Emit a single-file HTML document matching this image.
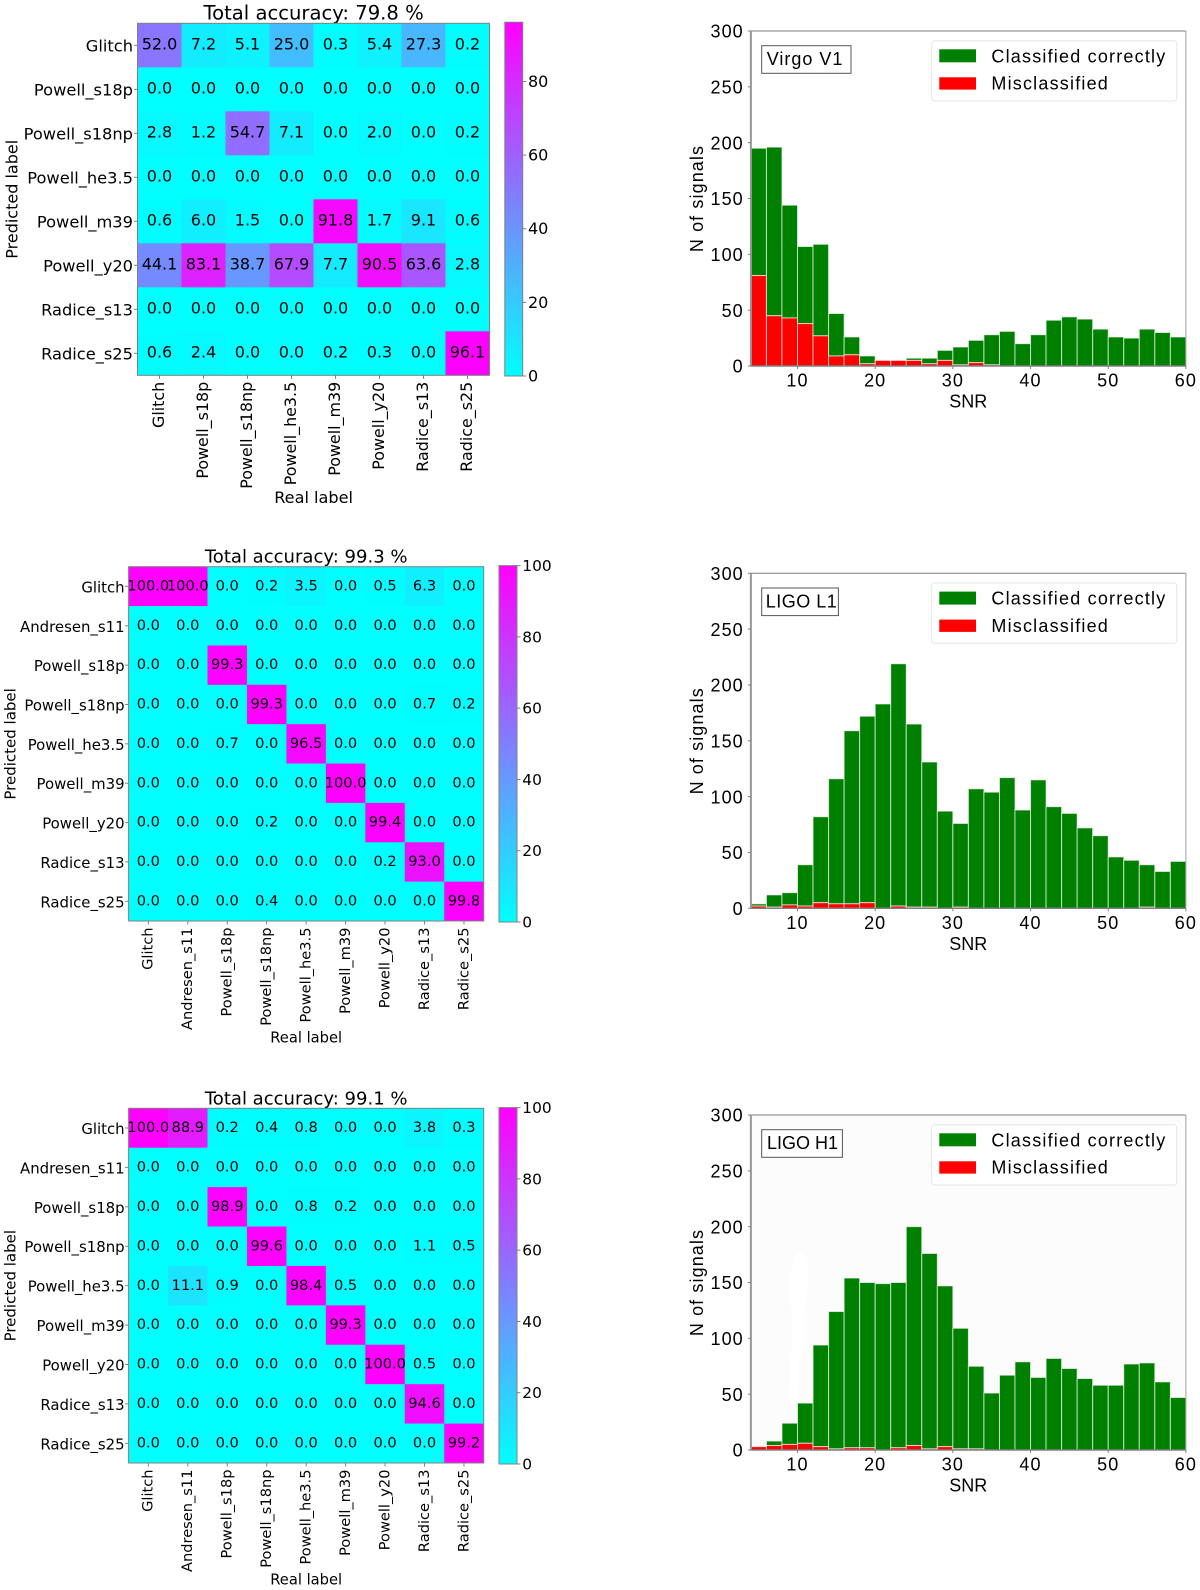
<!DOCTYPE html>
<html lang="en">
<head>
<meta charset="utf-8">
<title>Confusion matrices and SNR histograms</title>
<style>
html,body{margin:0;padding:0;background:#fff;}
svg{display:block;filter:blur(0.35px);}
.dv{font-family:"DejaVu Sans","Liberation Sans",sans-serif;fill:#000;}
.ls{font-family:"Liberation Sans",Arial,sans-serif;fill:#000;font-size:18px;}
</style>
</head>
<body>
<svg id="figure" xmlns="http://www.w3.org/2000/svg" width="1200" height="1590" viewBox="0 0 1200 1590">
  <defs>
    <linearGradient id="cool-gradient" x1="0" y1="1" x2="0" y2="0">
      <stop offset="0" stop-color="#00ffff"/>
      <stop offset="1" stop-color="#ff00ff"/>
    </linearGradient>
  </defs>
  <rect x="0" y="0" width="1200" height="1590" fill="#ffffff"/>

  <!-- Confusion matrix 1 -->
  <g id="cm1">
    <text class="dv" x="313.6" y="19.5" font-size="19.6" text-anchor="middle">Total accuracy: 79.8 %</text>
    <text class="dv" x="313.6" y="503" font-size="16.1" text-anchor="middle">Real label</text>
    <text class="dv" font-size="16" text-anchor="middle" transform="translate(17.5 199.3) rotate(-90)">Predicted label</text>
  </g>

  <!-- Confusion matrix 2 -->
  <g id="cm2">
    <text class="dv" x="306.2" y="562.7" font-size="18.05" text-anchor="middle">Total accuracy: 99.3 %</text>
    <text class="dv" x="306.2" y="1042.7" font-size="14.7" text-anchor="middle">Real label</text>
    <text class="dv" font-size="15" text-anchor="middle" transform="translate(15.5 743.9) rotate(-90)">Predicted label</text>
  </g>

  <!-- Confusion matrix 3 -->
  <g id="cm3">
    <text class="dv" x="306.2" y="1104.4" font-size="18.05" text-anchor="middle">Total accuracy: 99.1 %</text>
    <text class="dv" x="306.2" y="1584.5" font-size="14.7" text-anchor="middle">Real label</text>
    <text class="dv" font-size="15" text-anchor="middle" transform="translate(15.5 1285.7) rotate(-90)">Predicted label</text>
  </g>

  <!-- Histogram 1 -->
  <g id="hist1">
    <rect x="750.9" y="31" width="435" height="335" fill="#ffffff"/>
    <g class="bars"></g>
    <g>
      <rect x="761.7" y="45.7" width="89.3" height="27.6" fill="#fff" stroke="#555" stroke-width="1"/>
      <text class="ls" x="766.7" y="65" letter-spacing="1">Virgo V1</text>
    </g>
    <g>
      <rect x="931.7" y="40.7" width="245" height="60.3" rx="3" fill="#fff" stroke="#e6e6e6" stroke-width="1"/>
      <rect x="939.3" y="49.3" width="36.7" height="13" fill="#008000"/>
      <text class="ls" x="991.4" y="62.3" letter-spacing="1.2">Classified correctly</text>
      <rect x="939.3" y="77.3" width="36.7" height="12.3" fill="#ff0000"/>
      <text class="ls" x="991.4" y="89.5" letter-spacing="1.2">Misclassified</text>
    </g>
    <text class="ls" x="968.3" y="407.7" text-anchor="middle">SNR</text>
    <text class="ls" text-anchor="middle" letter-spacing="1.1" transform="translate(702.8 198.5) rotate(-90)">N of signals</text>
  </g>

  <!-- Histogram 2 -->
  <g id="hist2" transform="translate(0 542.3)">
    <rect x="750.9" y="31" width="435" height="335" fill="#ffffff"/>
    <g class="bars"></g>
    <g>
      <rect x="761.7" y="45.7" width="76.7" height="27.6" fill="#fff" stroke="#555" stroke-width="1"/>
      <text class="ls" x="765.7" y="65" letter-spacing="0.5">LIGO L1</text>
    </g>
    <g>
      <rect x="931.7" y="40.7" width="245" height="60.3" rx="3" fill="#fff" stroke="#e6e6e6" stroke-width="1"/>
      <rect x="939.3" y="49.3" width="36.7" height="13" fill="#008000"/>
      <text class="ls" x="991.4" y="62.3" letter-spacing="1.2">Classified correctly</text>
      <rect x="939.3" y="77.3" width="36.7" height="12.3" fill="#ff0000"/>
      <text class="ls" x="991.4" y="89.5" letter-spacing="1.2">Misclassified</text>
    </g>
    <text class="ls" x="968.3" y="407.7" text-anchor="middle">SNR</text>
    <text class="ls" text-anchor="middle" letter-spacing="1.1" transform="translate(702.8 198.5) rotate(-90)">N of signals</text>
  </g>

  <!-- Histogram 3 -->
  <g id="hist3" transform="translate(0 1084)">
    <rect x="750.9" y="31" width="435" height="335" fill="#fcfcfc"/>
    <path d="M798 169 Q804 166 808 178 Q809 195 806 215 Q803 240 805 262 Q802 270 799 278 Q800 300 797 320 Q794 332 791 322 Q789 300 789 278 Q793 262 792 240 Q790 210 791 185 Q793 172 798 169 Z" fill="#ffffff"/>
    <g class="bars"></g>
    <g>
      <rect x="761.7" y="45.7" width="80.7" height="27.6" fill="#fff" stroke="#555" stroke-width="1"/>
      <text class="ls" x="767" y="65">LIGO H1</text>
    </g>
    <g>
      <rect x="931.7" y="40.7" width="245" height="60.3" rx="3" fill="#fff" stroke="#e6e6e6" stroke-width="1"/>
      <rect x="939.3" y="49.3" width="36.7" height="13" fill="#008000"/>
      <text class="ls" x="991.4" y="62.3" letter-spacing="1.2">Classified correctly</text>
      <rect x="939.3" y="77.3" width="36.7" height="12.3" fill="#ff0000"/>
      <text class="ls" x="991.4" y="89.5" letter-spacing="1.2">Misclassified</text>
    </g>
    <text class="ls" x="968.3" y="407.7" text-anchor="middle">SNR</text>
    <text class="ls" text-anchor="middle" letter-spacing="1.1" transform="translate(702.8 198.5) rotate(-90)">N of signals</text>
  </g>
</svg>

<script>
/* ---------- Confusion-matrix data ---------- */
const cmVirgoLabels = ["Glitch","Powell_s18p","Powell_s18np","Powell_he3.5","Powell_m39","Powell_y20","Radice_s13","Radice_s25"];
const cmLigoLabels = ["Glitch","Andresen_s11","Powell_s18p","Powell_s18np","Powell_he3.5","Powell_m39","Powell_y20","Radice_s13","Radice_s25"];
const cmVirgoValues = [
  [52.0,7.2,5.1,25.0,0.3,5.4,27.3,0.2],
  [0.0,0.0,0.0,0.0,0.0,0.0,0.0,0.0],
  [2.8,1.2,54.7,7.1,0.0,2.0,0.0,0.2],
  [0.0,0.0,0.0,0.0,0.0,0.0,0.0,0.0],
  [0.6,6.0,1.5,0.0,91.8,1.7,9.1,0.6],
  [44.1,83.1,38.7,67.9,7.7,90.5,63.6,2.8],
  [0.0,0.0,0.0,0.0,0.0,0.0,0.0,0.0],
  [0.6,2.4,0.0,0.0,0.2,0.3,0.0,96.1]
];
const cmL1Values = [
  [100.0,100.0,0.0,0.2,3.5,0.0,0.5,6.3,0.0],
  [0.0,0.0,0.0,0.0,0.0,0.0,0.0,0.0,0.0],
  [0.0,0.0,99.3,0.0,0.0,0.0,0.0,0.0,0.0],
  [0.0,0.0,0.0,99.3,0.0,0.0,0.0,0.7,0.2],
  [0.0,0.0,0.7,0.0,96.5,0.0,0.0,0.0,0.0],
  [0.0,0.0,0.0,0.0,0.0,100.0,0.0,0.0,0.0],
  [0.0,0.0,0.0,0.2,0.0,0.0,99.4,0.0,0.0],
  [0.0,0.0,0.0,0.0,0.0,0.0,0.2,93.0,0.0],
  [0.0,0.0,0.0,0.4,0.0,0.0,0.0,0.0,99.8]
];
const cmH1Values = [
  [100.0,88.9,0.2,0.4,0.8,0.0,0.0,3.8,0.3],
  [0.0,0.0,0.0,0.0,0.0,0.0,0.0,0.0,0.0],
  [0.0,0.0,98.9,0.0,0.8,0.2,0.0,0.0,0.0],
  [0.0,0.0,0.0,99.6,0.0,0.0,0.0,1.1,0.5],
  [0.0,11.1,0.9,0.0,98.4,0.5,0.0,0.0,0.0],
  [0.0,0.0,0.0,0.0,0.0,99.3,0.0,0.0,0.0],
  [0.0,0.0,0.0,0.0,0.0,0.0,100.0,0.5,0.0],
  [0.0,0.0,0.0,0.0,0.0,0.0,0.0,94.6,0.0],
  [0.0,0.0,0.0,0.0,0.0,0.0,0.0,0.0,99.2]
];
const cmVirgoScaleTicks = [0,20,40,60,80];
const cmLigoScaleTicks = [0,20,40,60,80,100];

/* ---------- Histogram data (per 2-SNR bin, 4 to 60) ---------- */
const snrTicks = [10,20,30,40,50,60];
const countTicks = [0,50,100,150,200,250,300];
const v1Correct = [114,151,101,69,82,38,16,7,0,0,2,5,9,16,20,27,31,20,28,41,44,42,33,26,25,33,30,26];
const v1Misclassified = [81,45,43,38,27,9,10,2,5,5,5,2,5,1,3,1,0,0,0,0,0,0,0,0,0,0,0,0];
const l1Correct = [2,11,11,37,77,112,155,167,183,217,164,130,87,75,107,104,117,88,115,91,85,72,65,46,43,38,33,42];
const l1Misclassified = [2,1,3,2,5,4,4,5,0,2,1,1,0,1,0,0,0,0,0,0,0,0,0,0,0,1,0,0];
const h1Correct = [0,4,19,36,91,123,152,148,149,148,196,175,144,108,74,51,67,79,65,82,73,64,58,58,77,78,61,47];
const h1Misclassified = [3,4,5,6,3,1,2,2,0,2,4,1,3,1,1,0,0,0,0,0,0,0,0,0,0,0,0,0];

const SVG_NS = "http://www.w3.org/2000/svg";
const SPINE = "#808080";

function make(tag, attrs, parent, text) {
  const node = document.createElementNS(SVG_NS, tag);
  for (const key in attrs) node.setAttribute(key, attrs[key]);
  if (text !== undefined) node.textContent = text;
  parent.appendChild(node);
  return node;
}

function coolColor(t) {
  const v = Math.max(0, Math.min(1, t));
  return "rgb(" + Math.round(255 * v) + "," + Math.round(255 * (1 - v)) + ",255)";
}

function drawConfusion(group, labels, rows, scaleTicks, box) {
  const n = labels.length;
  const cellW = box.w / n;
  const cellH = box.h / n;
  const vmax = Math.max.apply(null, rows.map(function (r) { return Math.max.apply(null, r); }));
  const xCenter = function (i) { return box.x + (i + 0.5) * cellW; };
  const yCenter = function (i) { return box.y + (i + 0.5) * cellH; };

  rows.forEach(function (row, r) {
    row.forEach(function (value, c) {
      const cell = make("rect", {
        x: box.x + c * cellW, y: box.y + r * cellH,
        width: cellW + 0.3, height: cellH + 0.3,
        fill: coolColor(value / vmax)
      }, group);
      
      
    });
  });
  rows.forEach(function (row, r) {
    row.forEach(function (value, c) {
      const label = make("text", {
        class: "dv", x: xCenter(c), y: yCenter(r) + box.cellBase,
        "font-size": box.cellFont, "text-anchor": "middle"
      }, group, value.toFixed(1));
      
      
    });
  });

  const frame = make("rect", {
    x: box.x, y: box.y, width: box.w, height: box.h,
    fill: "none", stroke: SPINE, "stroke-width": 1
  }, group);
  
  

  labels.forEach(function (name, i) {
    const yTick = make("line", {
      x1: box.x - 3.5, x2: box.x, y1: yCenter(i), y2: yCenter(i),
      stroke: SPINE, "stroke-width": 1
    }, group);
    
    

    const yLabel = make("text", {
      class: "dv", x: box.x - box.yLabelGap, y: yCenter(i) + 6,
      "font-size": box.tickFont, "text-anchor": "end"
    }, group, name);
    
    

    const xTick = make("line", {
      x1: xCenter(i), x2: xCenter(i), y1: box.y + box.h, y2: box.y + box.h + 3.5,
      stroke: SPINE, "stroke-width": 1
    }, group);
    
    

    const lx = xCenter(i) + box.xLabelGap;
    const ly = box.y + box.h + 6.5;
    const xLabel = make("text", {
      class: "dv", x: lx, y: ly, "font-size": box.xTickFont, "text-anchor": "end",
      transform: "rotate(-90 " + lx + " " + ly + ")"
    }, group, name);
    
    
  });

  /* colour bar */
  const bar = make("rect", {
    x: box.barX, y: box.barTop, width: box.barW, height: box.barBottom - box.barTop,
    fill: "url(#cool-gradient)", stroke: SPINE, "stroke-width": 1
  }, group);
  
  

  const barY = function (v) {
    return box.barBottom - (v / vmax) * (box.barBottom - box.barTop);
  };
  scaleTicks.forEach(function (v) {
    const tick = make("line", {
      x1: box.barX + box.barW, x2: box.barX + box.barW + 3.5, y1: barY(v), y2: barY(v),
      stroke: SPINE, "stroke-width": 1
    }, group);
    
    

    const tickLabel = make("text", {
      class: "dv", x: box.barX + box.barW + 5.3, y: barY(v) + 5.5, "font-size": box.barFont
    }, group, String(v));
    
    
  });
}

function drawHistogram(group, correct, misclassified) {
  const barsGroup = group.querySelector(".bars");
  const left = 750.9, right = 1185.9, top = 31, bottom = 366;
  const snrMin = 4, snrMax = 60, binWidth = 2, countMax = 300;
  const sx = function (v) { return left + (v - snrMin) * (right - left) / (snrMax - snrMin); };
  const sy = function (v) { return bottom - v * (bottom - top) / countMax; };

  correct.forEach(function (value, i) {
    const low = misclassified[i];
    const high = low + value;
    const x0 = sx(snrMin + i * binWidth);
    const x1 = sx(snrMin + (i + 1) * binWidth);
    if (value > 0) {
      const green = make("rect", {
        x: x0, y: sy(high), width: x1 - x0, height: sy(low) - sy(high),
        fill: "#008000", stroke: "#ffffff", "stroke-opacity": 0.65, "stroke-width": 1
      }, barsGroup);
      
      
    }
    if (low > 0) {
      const red = make("rect", {
        x: x0, y: sy(low), width: x1 - x0, height: sy(0) - sy(low),
        fill: "#ff0000", stroke: "#ffffff", "stroke-opacity": 0.65, "stroke-width": 1
      }, barsGroup);
      
      
    }
  });

  const spineTop = make("line", { x1: left, x2: right, y1: top, y2: top, stroke: SPINE, "stroke-width": 1 }, group);
  
  
  const spineRight = make("line", { x1: right, x2: right, y1: top, y2: bottom, stroke: "#a0a0a0", "stroke-width": 1 }, group);
  
  
  const spineLeft = make("line", { x1: left, x2: left, y1: top, y2: bottom, stroke: "#999999", "stroke-width": 2 }, group);
  
  
  const spineBottom = make("line", { x1: left, x2: right, y1: bottom, y2: bottom, stroke: SPINE, "stroke-width": 1.4 }, group);
  
  

  countTicks.forEach(function (v) {
    const tick = make("line", { x1: left - 3, x2: left, y1: sy(v), y2: sy(v), stroke: SPINE, "stroke-width": 1 }, group);
    
    
    const label = make("text", {
      class: "ls", x: 743.8, y: sy(v) + 6.7, "text-anchor": "end", "letter-spacing": 1.1, "font-size": 17.5
    }, group, String(v));
    
    
  });
  snrTicks.forEach(function (v) {
    const tick = make("line", { x1: sx(v), x2: sx(v), y1: bottom, y2: bottom + 3, stroke: SPINE, "stroke-width": 1 }, group);
    
    
    const label = make("text", {
      class: "ls", x: sx(v), y: bottom + 20.7, "text-anchor": "middle", "letter-spacing": 1.1, "font-size": 17.5
    }, group, String(v));
    
    
  });
}

drawConfusion(document.getElementById("cm1"), cmVirgoLabels, cmVirgoValues, cmVirgoScaleTicks, {
  x: 137.5, y: 23.3, w: 352, h: 352, cellBase: 4.2, cellFont: 16, tickFont: 16.25, xTickFont: 15.9,
  yLabelGap: 4.5, xLabelGap: 4.5,
  barX: 504.8, barW: 17.9, barTop: 22.2, barBottom: 376, barFont: 16
});
drawConfusion(document.getElementById("cm2"), cmLigoLabels, cmL1Values, cmLigoScaleTicks, {
  x: 128.6, y: 566.7, w: 355.1, h: 354.3, cellBase: 4.1, cellFont: 14.6, tickFont: 14.9, xTickFont: 14.6,
  yLabelGap: 4, xLabelGap: 4.3,
  barX: 499, barW: 18, barTop: 565.6, barBottom: 922, barFont: 15.4
});
drawConfusion(document.getElementById("cm3"), cmLigoLabels, cmH1Values, cmLigoScaleTicks, {
  x: 128.6, y: 1108.3, w: 355.1, h: 354.7, cellBase: 4.1, cellFont: 14.6, tickFont: 14.9, xTickFont: 14.6,
  yLabelGap: 4, xLabelGap: 4.3,
  barX: 499, barW: 18, barTop: 1107.6, barBottom: 1464, barFont: 15.4
});
drawHistogram(document.getElementById("hist1"), v1Correct, v1Misclassified);
drawHistogram(document.getElementById("hist2"), l1Correct, l1Misclassified);
drawHistogram(document.getElementById("hist3"), h1Correct, h1Misclassified);
</script>
</body>
</html>
